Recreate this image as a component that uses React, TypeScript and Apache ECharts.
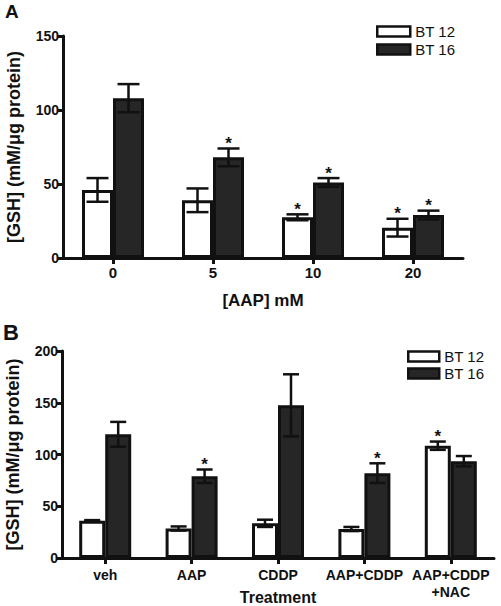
import React, { useEffect, useRef } from "react";
import * as echarts from "echarts";

// ---- Panel A data ----
const categoriesA = ["0", "5", "10", "20"];
const bt12A = [46, 39, 27.5, 20.5];
const bt12AErr = [8, 8, 2, 6];
const bt12ASig = [false, false, true, true];
const bt16A = [108, 68, 51, 29];
const bt16AErr = [9.5, 6, 3, 3];
const bt16ASig = [false, true, true, true];
const yTicksA = { min: 0, max: 150, interval: 50 };

// ---- Panel B data ----
const categoriesB = ["veh", "AAP", "CDDP", "AAP+CDDP", "AAP+CDDP\n+NAC"];
const bt12B = [36, 28.5, 33.5, 28, 108.5];
const bt12BErr = [0.6, 2, 3.5, 2, 4];
const bt12BSig = [false, false, false, false, true];
const bt16B = [119.5, 79, 147.5, 82, 93.5];
const bt16BErr = [12, 6.5, 30, 9.5, 5];
const bt16BSig = [false, true, false, true, false];
const yTicksB = { min: 0, max: 200, interval: 50 };

const seriesNames = ["BT 12", "BT 16"];

const FONT = '"Liberation Sans", Arial, Helvetica, sans-serif';
const INK = "#111";
const DARK = "#262626";

function errSeries(
  xi: number,
  values: number[],
  errs: number[],
  sig: boolean[],
  offsetPx: number,
  capW: number
) {
  return {
    type: "custom",
    xAxisIndex: xi,
    yAxisIndex: xi,
    silent: true,
    z: 10,
    data: values.map((v, i) => [i, v - errs[i], v + errs[i], sig[i] ? 1 : 0]),
    encode: { x: 0, y: [1, 2] },
    renderItem: (_params: any, api: any) => {
      const i = api.value(0);
      const lo = api.coord([i, api.value(1)]);
      const hi = api.coord([i, api.value(2)]);
      const x = lo[0] + offsetPx;
      const ls = { stroke: INK, lineWidth: 2.5 };
      const children: any[] = [
        { type: "line", shape: { x1: x, y1: lo[1], x2: x, y2: hi[1] }, style: ls },
        { type: "line", shape: { x1: x - capW / 2, y1: hi[1], x2: x + capW / 2, y2: hi[1] }, style: ls },
        { type: "line", shape: { x1: x - capW / 2, y1: lo[1], x2: x + capW / 2, y2: lo[1] }, style: ls },
      ];
      if (api.value(3) === 1) {
        children.push({
          type: "text",
          style: {
            text: "*",
            x,
            y: hi[1] - 5,
            align: "center",
            verticalAlign: "middle",
            fontSize: 17,
            fontWeight: "bold",
            fontFamily: FONT,
            fill: INK,
          },
        });
      }
      return { type: "group", children };
    },
  };
}

function barSeries(name: string, xi: number, data: number[], fill: string, w: number) {
  return {
    type: "bar",
    name,
    xAxisIndex: xi,
    yAxisIndex: xi,
    data,
    barWidth: w,
    barGap: "0%",
    itemStyle: { color: fill, borderColor: INK, borderWidth: 3 },
    silent: true,
  };
}

export default function App() {
  const ref = useRef<HTMLDivElement>(null);
  useEffect(() => {
    if (!ref.current) return;
    const chart = echarts.init(ref.current, undefined, { renderer: "svg" });
    const bwA = 31;
    const bwB = 26;
    const axisLine = { show: true, lineStyle: { color: INK, width: 3 } };
    const axisTick = { show: true, length: 6, lineStyle: { color: INK, width: 3 } };
    const yLabel = { color: INK, fontSize: 14, fontWeight: "bold", fontFamily: FONT, margin: 4 };
    const nameStyle = { color: INK, fontSize: 17, fontWeight: "bold", fontFamily: FONT };
    const xAxisCommon = {
      type: "category",
      axisLine,
      axisTick: { ...axisTick, alignWithLabel: true },
      splitLine: { show: false },
      nameLocation: "middle",
      nameMoveOverlap: false,
      nameTextStyle: nameStyle,
    };
    const yAxisCommon = {
      type: "value",
      axisLine,
      axisTick,
      splitLine: { show: false },
      axisLabel: yLabel,
      nameLocation: "middle",
      nameMoveOverlap: false,
      nameTextStyle: { ...nameStyle, fontSize: 18 },
      name: "[GSH] (mM/\u03bcg protein)",
      nameGap: 40,
    };
    const legendCommon = {
      data: seriesNames,
      orient: "vertical",
      padding: 0,
      itemHeight: 10,
      icon: "rect",
      selectedMode: false,
      itemStyle: { borderColor: INK, borderWidth: 2.5 },
      textStyle: { color: INK, fontSize: 15, fontFamily: FONT },
    };
    chart.setOption({
      animation: false,
      backgroundColor: "#fff",
      grid: [
        { left: 63, right: 38, top: 36, height: 222, outerBoundsMode: "none" },
        { left: 62, right: 7, top: 351, height: 207, outerBoundsMode: "none" },
      ],
      xAxis: [
        {
          ...xAxisCommon,
          gridIndex: 0,
          data: categoriesA,
          name: "[AAP] mM",
          nameGap: 34,
          axisLabel: { color: INK, fontSize: 15, fontWeight: "bold", fontFamily: FONT, margin: 7 },
        },
        {
          ...xAxisCommon,
          gridIndex: 1,
          data: categoriesB,
          name: "Treatment",
          nameGap: 31,
          nameTextStyle: { ...nameStyle, fontSize: 16 },
          axisLabel: {
            color: INK,
            fontSize: 14,
            fontWeight: "bold",
            fontFamily: FONT,
            margin: 8,
            lineHeight: 17,
            interval: 0,
          },
        },
      ],
      yAxis: [
        { ...yAxisCommon, gridIndex: 0, ...yTicksA },
        { ...yAxisCommon, gridIndex: 1, ...yTicksB },
      ],
      legend: [
        { ...legendCommon, left: 376, top: 24, itemWidth: 33, itemGap: 3 },
        { ...legendCommon, left: 407, top: 349, itemWidth: 31, itemGap: 2 },
      ],
      graphic: [
        {
          type: "text",
          left: 5,
          top: 2,
          style: { text: "A", fontSize: 19, fontWeight: "bold", fontFamily: FONT, fill: INK },
        },
        {
          type: "text",
          left: 3,
          top: 321,
          style: { text: "B", fontSize: 22, fontWeight: "bold", fontFamily: FONT, fill: INK },
        },
      ],
      series: [
        barSeries(seriesNames[0], 0, bt12A, "#fff", bwA),
        barSeries(seriesNames[1], 0, bt16A, DARK, bwA),
        errSeries(0, bt12A, bt12AErr, bt12ASig, -bwA / 2, 22),
        errSeries(0, bt16A, bt16AErr, bt16ASig, bwA / 2, 22),
        barSeries(seriesNames[0], 1, bt12B, "#fff", bwB),
        barSeries(seriesNames[1], 1, bt16B, DARK, bwB),
        errSeries(1, bt12B, bt12BErr, bt12BSig, -bwB / 2, 16),
        errSeries(1, bt16B, bt16BErr, bt16BSig, bwB / 2, 16),
      ],
    });
    return () => chart.dispose();
  }, []);
  return (
    <div
      ref={ref}
      style={{ position: "fixed", left: 0, top: 0, width: 501, height: 606, background: "#fff" }}
    />
  );
}
